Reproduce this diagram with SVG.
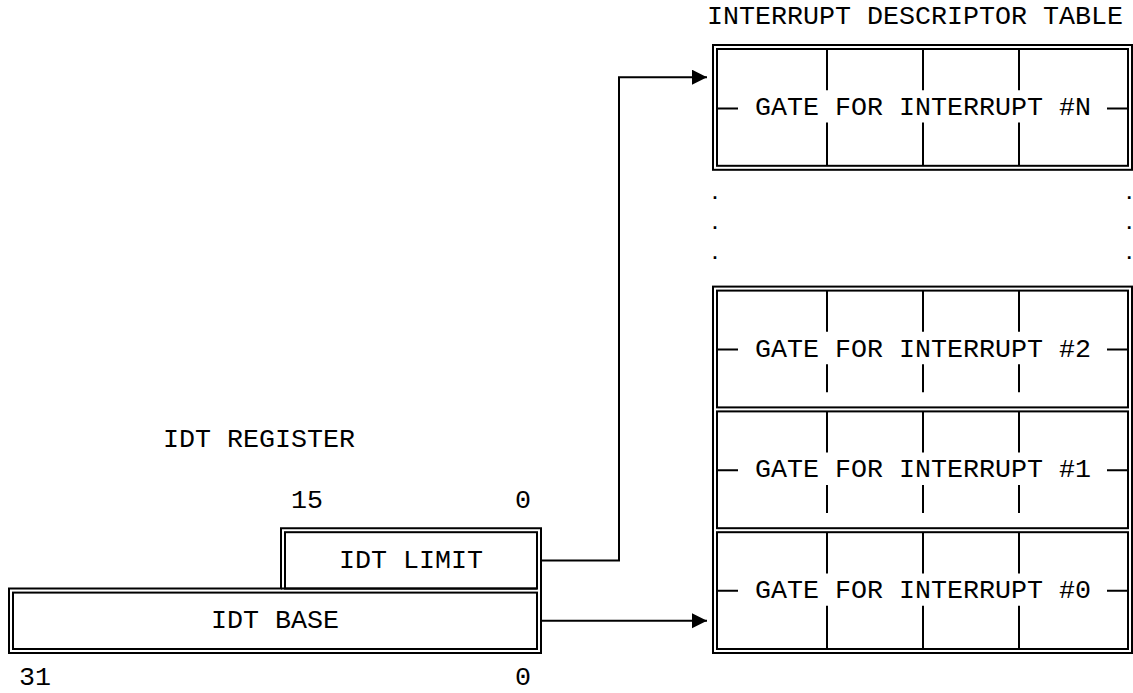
<svg xmlns="http://www.w3.org/2000/svg" width="1133" height="693" viewBox="0 0 1133 693">
<style>
text{font-family:"Liberation Mono","Courier New",monospace;font-size:26.67px;fill:#000}
text.d{font-family:"Liberation Sans",Arial,sans-serif}
.b{fill:none;stroke:#000;stroke-width:2}
.c{fill:none;stroke:#000;stroke-width:2}
</style>
<defs>
<marker id="ah" markerUnits="userSpaceOnUse" markerWidth="16" markerHeight="16" refX="15" refY="7.5" orient="auto">
<path d="M0,0 L15,7.5 L0,15 Z" fill="#000"/>
</marker>
</defs>
<rect width="1133" height="693" fill="#fff"/>

<text x="707" y="24.4">INTERRUPT DESCRIPTOR TABLE</text>

<g id="gateN">
<rect class="b" x="713" y="45" width="419" height="124.8"/>
<rect class="b" x="717" y="49" width="411" height="116.8"/>
<path class="b" d="M827,49V90.2M923,49V90.2M1019,49V90.2M827,122.6V165.8M923,122.6V165.8M1019,122.6V165.8M717,108.4H738M1107,108.4H1128"/>
<text x="755" y="115">GATE FOR INTERRUPT #N</text>
</g>

<g id="dots">
<text class="d" x="715" y="199" text-anchor="middle">.</text><text class="d" x="1133" y="199" text-anchor="end">.</text>
<text class="d" x="715" y="229" text-anchor="middle">.</text><text class="d" x="1133" y="229" text-anchor="end">.</text>
<text class="d" x="715" y="259" text-anchor="middle">.</text><text class="d" x="1133" y="259" text-anchor="end">.</text>
</g>

<g id="table">
<rect class="b" x="713" y="286.6" width="419" height="366.4"/>
</g>

<g id="gate2">
<rect class="b" x="717" y="290.6" width="411" height="116.8"/>
<path class="b" d="M827,290.6V331.8M923,290.6V331.8M1019,290.6V331.8M827,364.2V392.2M923,364.2V392.2M1019,364.2V392.2M717,349.5H738M1107,349.5H1128"/>
<text x="755" y="356.6">GATE FOR INTERRUPT #2</text>
</g>

<g id="gate1">
<rect class="b" x="717" y="411.4" width="411" height="116.8"/>
<path class="b" d="M827,411.4V452.6M923,411.4V452.6M1019,411.4V452.6M827,485V513M923,485V513M1019,485V513M717,470.3H738M1107,470.3H1128"/>
<text x="755" y="477.4">GATE FOR INTERRUPT #1</text>
</g>

<g id="gate0">
<rect class="b" x="717" y="532.2" width="411" height="116.8"/>
<path class="b" d="M827,532.2V573.4M923,532.2V573.4M1019,532.2V573.4M827,605.8V649M923,605.8V649M1019,605.8V649M717,590.8H738M1107,590.8H1128"/>
<text x="755" y="598.2">GATE FOR INTERRUPT #0</text>
</g>

<g id="register">
<text x="163" y="447.2">IDT REGISTER</text>
<text x="291" y="507.6">15</text>
<text x="515" y="507.6">0</text>
<path class="b" d="M9,653V588.6H281V528.2H541V653Z"/>
<path class="b" d="M281,588.6H537"/>
<rect class="b" x="285" y="532.2" width="252" height="56.4"/>
<rect class="b" x="13" y="592.6" width="524" height="56.4"/>
<text x="339" y="568">IDT LIMIT</text>
<text x="211" y="628.4">IDT BASE</text>
<text x="19" y="684.5">31</text>
<text x="515" y="684.5">0</text>
</g>

<g id="connectors">
<path class="c" d="M541,560.4H619V77.2H707" marker-end="url(#ah)"/>
<path class="c" d="M541,620.8H707" marker-end="url(#ah)"/>
</g>
</svg>
